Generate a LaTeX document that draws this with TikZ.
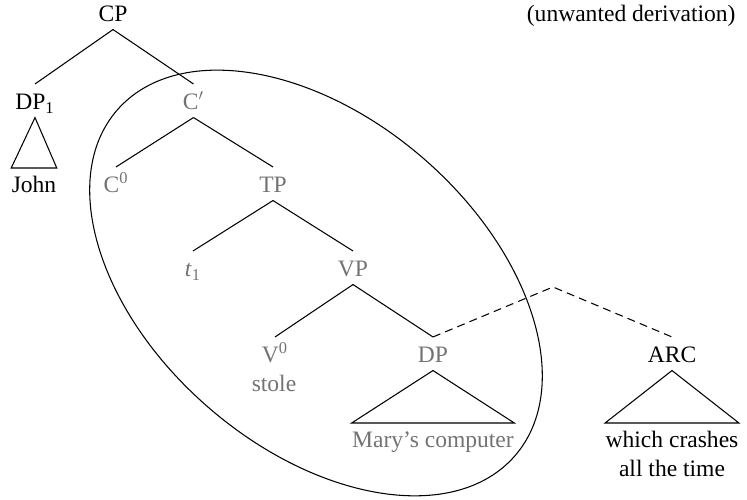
\documentclass[tikz,border=0pt]{standalone}
\usepackage{fontspec}
\setmainfont{Liberation Serif}
\usepackage{tikz}

\begin{document}
\begin{tikzpicture}[line width=0.6pt,
  every node/.style={font=\fontsize{13.4}{16.4}\selectfont, inner sep=0pt},
  cat/.style={anchor=base, text height=14.5pt, text depth=4pt},
  leaf/.style={anchor=north, inner ysep=4.5pt, align=center},
  faded/.style={text=black!55},
  relink/.style={dash pattern=on 4.5pt off 3pt}]
\useasboundingbox (0,0) rectangle (14.94,10);

\node[anchor=base east] (title) at (14.72,9.56) {(unwanted derivation)};

\node[cat] (cp) at (2.26,9.56) {CP};
\node[cat] (dp1) at (0.70,7.80) {DP\textsubscript{1}};
\node[leaf] (john) at (0.68,6.64) {John};
\node[cat,faded] (cbar) at (3.87,7.80) {C$'$};
\node[cat,faded] (c0) at (2.32,6.14) {C\textsuperscript{0}};
\node[cat,faded] (tp) at (5.46,6.14) {TP};
\node[cat,faded] (t1) at (3.86,4.46) {\textit{t}\textsubscript{1}};
\node[cat,faded] (vp) at (7.06,4.46) {VP};
\node[cat,faded] (v0) at (5.50,2.74) {V\textsuperscript{0}};
\node[anchor=base,faded] (stole) at (5.48,2.16) {stole};
\node[cat,faded] (dp) at (8.66,2.74) {DP};
\node[leaf,faded] (mary) at (8.66,1.54) {Mary's computer};
\node[cat] (arc) at (13.44,2.74) {ARC};
\node[leaf] (which) at (13.44,1.54) {which crashes\\all the time};
\coordinate (join) at (11.06,4.26);

\draw (cp.south) -- (dp1.north);
\draw (cp.south) -- (cbar.north);
\draw (dp1.south) -- (john.north west) -- (john.north east) -- cycle;
\draw (cbar.south) -- (c0.north);
\draw (cbar.south) -- (tp.north);
\draw (tp.south) -- (t1.north);
\draw (tp.south) -- (vp.north);
\draw (vp.south) -- (v0.north);
\draw (vp.south) -- (dp.north);
\draw (dp.south) -- (mary.north west) -- (mary.north east) -- cycle;
\draw (arc.south) -- (which.north west) -- (which.north east) -- cycle;
\draw[relink] (dp.north) -- (join) -- (arc.north);

\draw[rotate around={-41:(6.32,4.34)}] (6.32,4.34) ellipse (5.27 and 3.29);
\end{tikzpicture}
\end{document}
